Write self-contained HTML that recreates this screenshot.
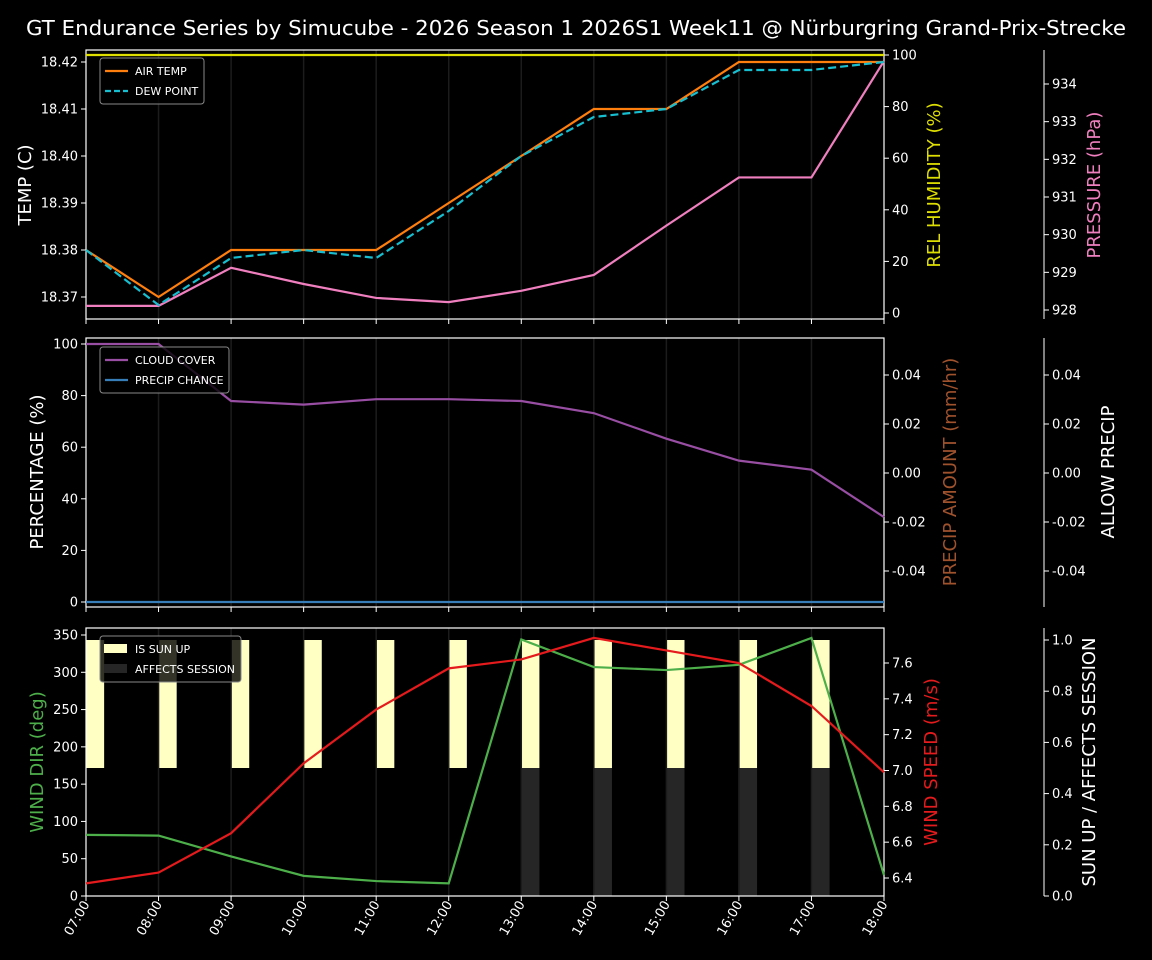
<!DOCTYPE html>
<html><head><meta charset="utf-8"><style>
body{margin:0;background:#000;}
svg{display:block;font-family:"DejaVu Sans","Liberation Sans",sans-serif;}
</style></head><body>
<svg id="c" width="1152" height="960" viewBox="0 0 1152 960" xmlns="http://www.w3.org/2000/svg">
<rect width="1152" height="960" fill="#000"/>
<text x="576" y="35" fill="#fff" font-size="20" text-anchor="middle" textLength="1100" lengthAdjust="spacingAndGlyphs">GT Endurance Series by Simucube - 2026 Season 1 2026S1 Week11 @ Nürburgring Grand-Prix-Strecke</text>
</svg>
<script>
const hours=['07:00','08:00','09:00','10:00','11:00','12:00','13:00','14:00','15:00','16:00','17:00','18:00'];
const airTemp=[18.38,18.37,18.38,18.38,18.38,18.39,18.40,18.41,18.41,18.42,18.42,18.42];
const dewPoint=[18.38,18.3683,18.3783,18.38,18.3783,18.3883,18.40,18.4083,18.41,18.4183,18.4183,18.42];
const humidity=[100,100,100,100,100,100,100,100,100,100,100,100];
const pressure=[928.11,928.11,929.12,928.69,928.32,928.21,928.51,928.93,930.24,931.52,931.52,934.61];
const cloudCover=[100,100,77.9,76.5,78.6,78.6,77.9,73.2,63.3,54.8,51.3,32.9];
const precipChance=[0,0,0,0,0,0,0,0,0,0,0,0];
const windDir=[82,81,53,27,20,17,344,307,303,310,346,28];
const windSpeed=[6.37,6.43,6.65,7.04,7.34,7.57,7.62,7.74,7.67,7.60,7.36,6.99];
const sunUp=[1,1,1,1,1,1,1,1,1,1,1,0];
const affects=[0,0,0,0,0,0,1,1,1,1,1,0];
const tempTicks=[18.37,18.38,18.39,18.40,18.41,18.42];
const humTicks=[0,20,40,60,80,100];
const presTicks=[928,929,930,931,932,933,934];
const pctTicks=[0,20,40,60,80,100];
const precTicks=[-0.04,-0.02,0.00,0.02,0.04];
const dirTicks=[0,50,100,150,200,250,300,350];
const spdTicks=[6.4,6.6,6.8,7.0,7.2,7.4,7.6];
const sunTicks=[0,0.2,0.4,0.6,0.8,1.0];

const S=document.getElementById('c');const NS='http://www.w3.org/2000/svg';
function el(t,a,p){const e=document.createElementNS(NS,t);for(const k in a)e.setAttribute(k,a[k]);(p||S).appendChild(e);return e;}
const X0=86,X1=884;
const x=i=>X0+(X1-X0)*i/11;
function lin(v0,p0,v1,p1){return v=>p0+(v-v0)*(p1-p0)/(v1-v0);}
const yT=lin(18.37,297,18.42,62), yH=lin(0,313,100,55), yP=lin(928,310,934,84);
const yPc=lin(0,602,100,344), yPr=lin(-0.04,571,0.04,375);
const yD=lin(0,896,350,635), yS=lin(6.4,878,7.6,663), ySun=lin(0,896,1,640);

function panel(name,top,bot){
  for(let i=1;i<11;i++){const g=el('line',{x1:x(i),x2:x(i),y1:top,y2:bot,stroke:'#1c1c1c','stroke-width':1.5});}
  const r=el('rect',{x:X0,y:top,width:X1-X0,height:bot-top,fill:'none',stroke:'#fff','stroke-width':1.2});
  
  for(let i=0;i<12;i++){el('line',{x1:x(i),x2:x(i),y1:bot,y2:bot+5,stroke:'#fff'});}
}
function ticks(name,vals,f,xpos,side,fmt){
  vals.forEach(v=>{const y=f(v);
    el('line',{x1:xpos,x2:xpos+(side<0?-5:5),y1:y,y2:y,stroke:'#fff'});
    const t=el('text',{x:xpos+(side<0?-8:8),y:y+4.5,fill:'#fff','font-size':13,'text-anchor':side<0?'end':'start'});
    t.textContent=fmt(v);});
}
function vlabel(name,txt,xp,yc,col){const t=el('text',{x:xp,y:yc,fill:col,'font-size':18,'text-anchor':'middle',transform:`rotate(-90 ${xp} ${yc})`});t.textContent=txt;}
function spine(xp,top,bot){el('line',{x1:xp,x2:xp,y1:top,y2:bot,stroke:'#fff'});}
function line(name,arr,f,col,dash){const p=el('polyline',{points:arr.map((v,i)=>x(i)+','+f(v)).join(' '),fill:'none',stroke:col,'stroke-width':2.2,'stroke-dasharray':dash||''});}
function legend(name,x0,y0,w,items){const g=el('g',{});
  el('rect',{x:x0,y:y0,width:w,height:items.length*20+6,rx:3,fill:'#000',stroke:'#888','fill-opacity':0.8},g);
  items.forEach((it,k)=>{const yy=y0+13+k*20;
    if(it.box)el('rect',{x:x0+4,y:yy-5,width:23,height:9,fill:it.col},g);
    else el('line',{x1:x0+5,x2:x0+28,y1:yy,y2:yy,stroke:it.col,'stroke-width':2.2,'stroke-dasharray':it.dash||''},g);
    const t=el('text',{x:x0+35,y:yy+4,fill:'#fff','font-size':11},g);t.textContent=it.t;});
}
// Panel 1
panel('temp-panel',50,319);
ticks('temp',tempTicks,yT,X0,-1,v=>v.toFixed(2));
ticks('humidity',humTicks,yH,X1,1,v=>v);
spine(1044,50,319);ticks('pressure',presTicks,yP,1044,1,v=>v);
vlabel('temp-axis-title','TEMP (C)',31,185,'#fff');
vlabel('humidity-axis-title','REL HUMIDITY (%)',940,185,'#dede00');
vlabel('pressure-axis-title','PRESSURE (hPa)',1100,185,'#f07fbf');
line('humidity-line',humidity,yH,'#dede00');
line('pressure-line',pressure,yP,'#f07fbf');
line('air-temp-line',airTemp,yT,'#ff7f0e');
line('dew-point-line',dewPoint,yT,'#17becf','8 4');
legend('temp-legend',100,58,104,[{t:'AIR TEMP',col:'#ff7f0e'},{t:'DEW POINT',col:'#17becf',dash:'6 3'}]);
// Panel 2
panel('cloud-panel',338,607);
ticks('percentage',pctTicks,yPc,X0,-1,v=>v);
ticks('precip-amount',precTicks,yPr,X1,1,v=>v.toFixed(2));
spine(1044,338,607);ticks('allow-precip',precTicks,yPr,1044,1,v=>v.toFixed(2));
vlabel('percentage-axis-title','PERCENTAGE (%)',43,472,'#fff');
vlabel('precip-amount-axis-title','PRECIP AMOUNT (mm/hr)',956,472,'#a0522d');
vlabel('allow-precip-axis-title','ALLOW PRECIP',1114,472,'#fff');
line('cloud-cover-line',cloudCover,yPc,'#984ea3');
line('precip-chance-line',precipChance,yPc,'#377eb8');
legend('cloud-legend',100,347,129,[{t:'CLOUD COVER',col:'#984ea3'},{t:'PRECIP CHANCE',col:'#377eb8'}]);
// Panel 3
const bw=(X1-X0)/11*0.25;
sunUp.forEach((v,i)=>{if(v){const r=el('rect',{x:x(i),y:ySun(1),width:bw,height:ySun(0.5)-ySun(1),fill:'#ffffc4'});}});
affects.forEach((v,i)=>{if(v){const r=el('rect',{x:x(i),y:ySun(0.5),width:bw,height:ySun(0)-ySun(0.5),fill:'#262626'});}});
panel('wind-panel',628,896);
ticks('wind-dir',dirTicks,yD,X0,-1,v=>v);
ticks('wind-speed',spdTicks,yS,X1,1,v=>v.toFixed(1));
spine(1044,628,896);ticks('sun-up',sunTicks,ySun,1044,1,v=>v.toFixed(1));
vlabel('wind-dir-axis-title','WIND DIR (deg)',43,762,'#4daf4a');
vlabel('wind-speed-axis-title','WIND SPEED (m/s)',937,762,'#e41a1c');
vlabel('sun-up-axis-title','SUN UP / AFFECTS SESSION',1095,762,'#fff');
line('wind-dir-line',windDir,yD,'#4daf4a');
line('wind-speed-line',windSpeed,yS,'#e41a1c');
legend('wind-legend',100,636,141,[{t:'IS SUN UP',col:'#ffffc4',box:1},{t:'AFFECTS SESSION',col:'#262626',box:1}]);
hours.forEach((h,i)=>{const xx=x(i)+4,yy=904;const t=el('text',{x:xx,y:yy,fill:'#fff','font-size':13,'text-anchor':'end',transform:`rotate(-60 ${xx} ${yy})`});t.textContent=h;});
</script>
</body></html>
